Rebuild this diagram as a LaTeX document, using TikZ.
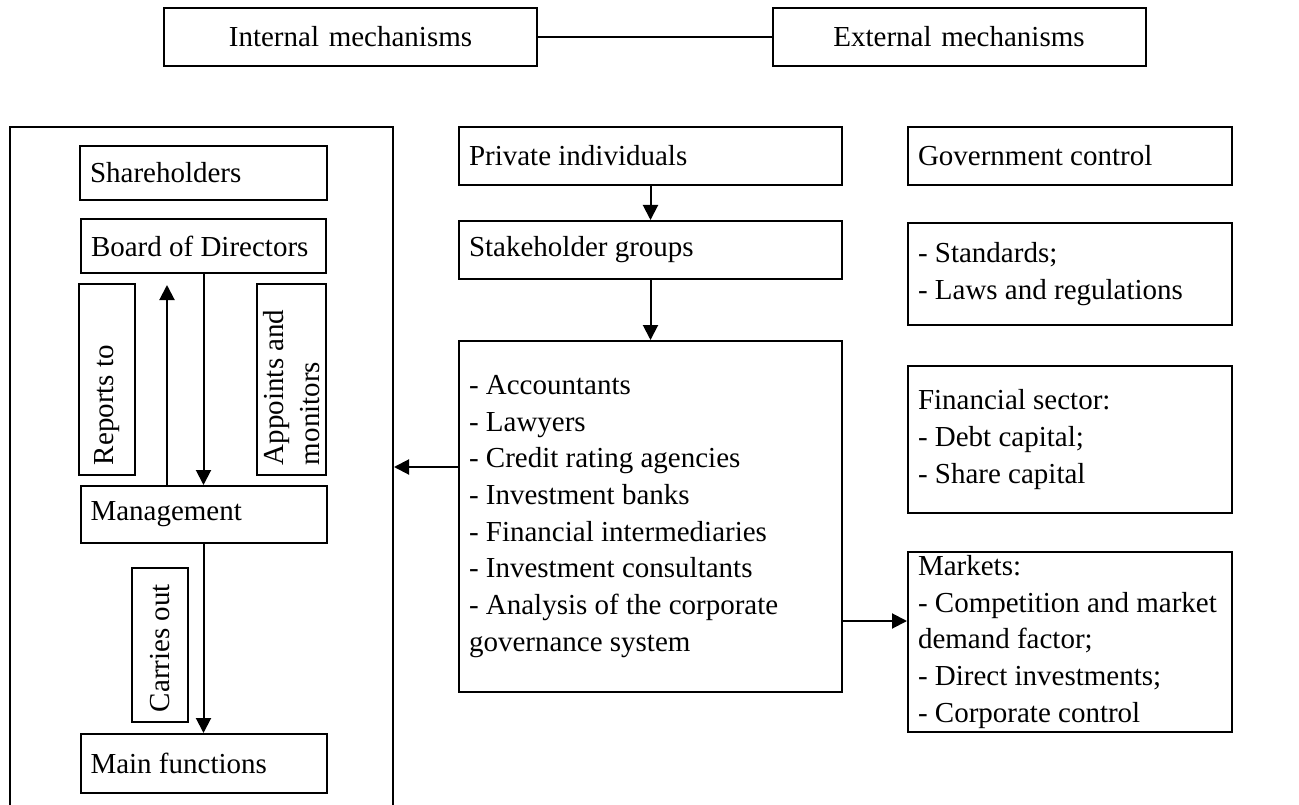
\documentclass[tikz,border=0pt]{standalone}
\usepackage{fontspec}
\setmainfont{Liberation Serif}
\usetikzlibrary{arrows.meta,positioning}

\begin{document}
\begin{tikzpicture}[x=1pt,y=-1pt,line width=2pt,>={Triangle[length=15pt,width=15pt]},
                    font=\fontsize{29}{36.7}\selectfont]
  \tikzstyle{block}=[rectangle,draw=black,fill=white,align=flush left,inner xsep=10pt,inner ysep=0pt]
  \tikzstyle{title}=[block,align=center,text width=353pt,minimum height=58pt]
  \tikzstyle{vbox}=[block,rotate=90]

  \useasboundingbox (0,0) rectangle (1299,805);
  \clip (0,0) rectangle (1299,805);

  % top row
  \node[title] (intm) at (350.5,37) {Internal mechanisms};
  \node[title] (extm) at (959,37)   {External mechanisms};
  \draw (intm) -- (extm);

  % internal mechanisms
  \node[block,minimum width=383pt,minimum height=720pt] (inner) at (201.5,487) {};
  \node[block,text width=227pt,minimum height=54pt] (share) at (203.5,173) {Shareholders};
  \node[block,text width=225pt,minimum height=54pt] (board) at (203.5,246) {Board of Directors};
  \node[vbox,text width=171pt,minimum height=56pt] (reports)  at (107,379.5)   {Reports to};
  \node[vbox,text width=171pt,minimum height=69pt] (appoints) at (291.5,379.5) {Appoints and\\monitors};
  \node[block,text width=226pt,minimum height=57pt] (mgmt) at (203.5,514.5) {Management};
  \node[vbox,text width=134pt,minimum height=56pt] (carries) at (160,645) {Carries out};
  \node[block,text width=226pt,minimum height=59pt] (mainf) at (203.5,763.5) {Main functions};
  \coordinate (uptip) at (167,285);

  \draw[->] (mgmt.north -| uptip) -- (uptip);
  \draw[->] (board.south) -- (mgmt.north);
  \draw[->] (mgmt.south) -- (mainf.north);

  % stakeholders
  \node[block,text width=363pt,minimum height=58pt]  (priv)   at (650.5,156)   {Private individuals};
  \node[block,text width=363pt,minimum height=58pt]  (stake)  at (650.5,250)   {Stakeholder groups};
  \node[block,text width=363pt,minimum height=351pt] (agents) at (650.5,516.5)
    {- Accountants\\- Lawyers\\- Credit rating agencies\\- Investment banks\\
     - Financial intermediaries\\- Investment consultants\\
     - Analysis of the corporate\\governance system};

  \draw[->] (priv) -- (stake);
  \draw[->] (stake) -- (agents);

  % external mechanisms
  \node[block,text width=304pt,minimum height=58pt]  (gov)  at (1070,156)   {Government control};
  \node[block,text width=304pt,minimum height=102pt] (std)  at (1070,274)   {- Standards;\\- Laws and regulations};
  \node[block,text width=304pt,minimum height=147pt] (fin)  at (1070,439.5) {Financial sector:\\- Debt capital;\\- Share capital};
  \node[block,text width=304pt,minimum height=180pt] (mkts) at (1070,642)
    {Markets:\\- Competition and market\\demand factor;\\- Direct investments;\\- Corporate control};

  \draw[->] ([yshift=49.5pt]agents.west) coordinate (l) -- (l -| inner.east);
  \draw[->] ([yshift=-104.5pt]agents.east) coordinate (r) -- (r -| mkts.west);
\end{tikzpicture}
\end{document}
